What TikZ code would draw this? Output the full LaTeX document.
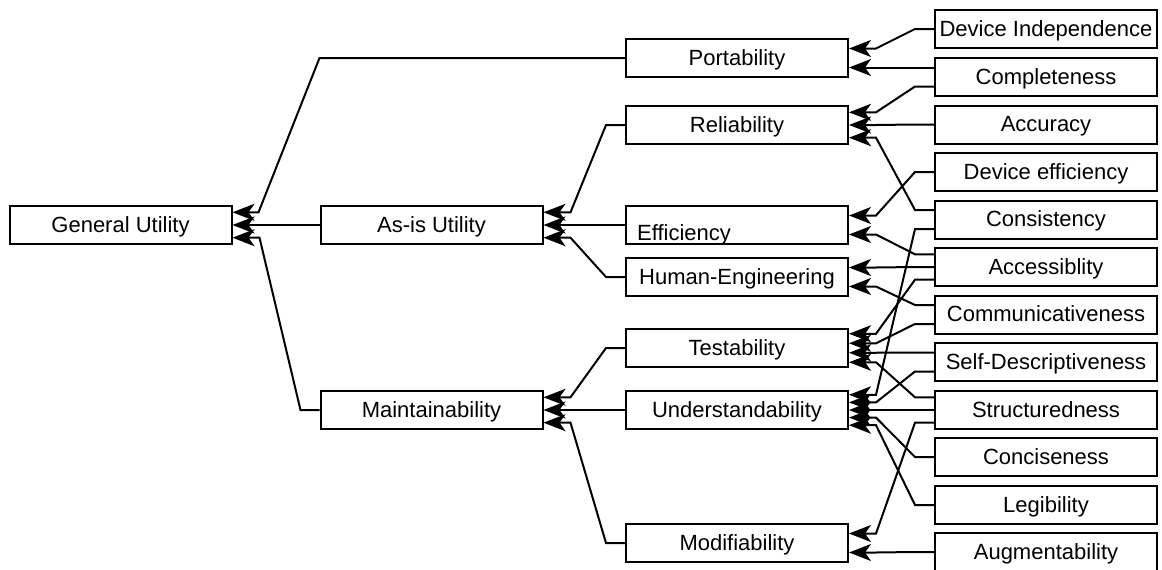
\documentclass[tikz,border=0pt]{standalone}
\usepackage{fontspec}
\setmainfont{Liberation Sans}
\usetikzlibrary{arrows.meta,calc}
\tikzset{
  box/.style={draw, line width=2pt, minimum width=222pt, minimum height=38pt, inner sep=0pt,
    text height=15pt, text depth=1pt},
  link/.style={line width=2pt, -{Stealth[length=22pt,width=17pt,inset=6pt]}},
}
% child exit offset, parent entry offset (pixels, downwards)
\newcommand{\linkbox}[4]{%
  \draw[link] ($(#1.west)+(0,#2)$) -- ++(-19,0) -- ($(#3.east)+(27,#4)$) -- ($(#3.east)+(0,#4)$);}

\begin{document}
\begin{tikzpicture}[x=1pt,y=-1pt,font=\fontsize{22}{26}\selectfont]
  \useasboundingbox (0,0) rectangle (1162,570);

  % first and second level
  \node[box] (gen) at (120.5,225) {General Utility};
  \node[box] (asis) at (431.5,225) {As-is Utility};
  \node[box] (maint) at (431.5,410) {Maintainability};

  % third level
  \node[box] (port) at (737,58) {Portability};
  \node[box] (rel) at (737,125) {Reliability};
  \node[box, label={[anchor=base west, inner sep=0pt, xshift=12pt, yshift=5pt]south west:Efficiency}] (eff) at (737,225) {};
  \node[box] (hum) at (737,277) {Human-Engineering};
  \node[box] (test) at (737,348) {Testability};
  \node[box] (und) at (737,410) {Understandability};
  \node[box] (mod) at (737,543) {Modifiability};

  % primitives
  \node[box] (devind) at (1046,29) {Device Independence};
  \node[box] (compl) at (1046,77) {Completeness};
  \node[box] (acc) at (1046,124.5) {Accuracy};
  \node[box] (deveff) at (1046,172) {Device efficiency};
  \node[box] (cons) at (1046,219.5) {Consistency};
  \node[box] (accs) at (1046,267) {Accessiblity};
  \node[box] (comm) at (1046,314.5) {Communicativeness};
  \node[box] (selfd) at (1046,362) {Self-Descriptiveness};
  \node[box] (struct) at (1046,410) {Structuredness};
  \node[box] (conc) at (1046,457) {Conciseness};
  \node[box] (leg) at (1046,505) {Legibility};
  \node[box] (augm) at (1046,552) {Augmentability};

  % second level -> first level
  \draw[link] (port.west) -- (asis.west |- port.west) -- ($(gen.east)+(26,-12.7)$) -- ($(gen.east)+(0,-12.7)$);
  \draw[link] (asis.west) -- (gen.east);
  \linkbox{maint}{0}{gen}{12.7}

  % third level -> second level
  \linkbox{rel}{0}{asis}{-12.7}
  \draw[link] (eff.west) -- (asis.east);
  \linkbox{hum}{0}{asis}{12.7}
  \linkbox{test}{0}{maint}{-12.7}
  \draw[link] (und.west) -- (maint.east);
  \linkbox{mod}{0}{maint}{12.7}

  % primitives -> third level
  \linkbox{devind}{0}{port}{-9.5}
  \linkbox{compl}{-9.5}{port}{9.5}
  \linkbox{compl}{9.5}{rel}{-12.7}
  \linkbox{acc}{0}{rel}{0}
  \linkbox{cons}{-9.5}{rel}{12.7}
  \linkbox{deveff}{0}{eff}{-9.5}
  \linkbox{accs}{-12.7}{eff}{9.5}
  \linkbox{accs}{0}{hum}{-9.5}
  \linkbox{comm}{-9.5}{hum}{9.5}
  \linkbox{accs}{12.7}{test}{-14.25}
  \linkbox{comm}{9.5}{test}{-4.75}
  \linkbox{selfd}{-9.5}{test}{4.75}
  \linkbox{struct}{-12.7}{test}{14.25}
  \linkbox{cons}{9.5}{und}{-15.2}
  \linkbox{selfd}{9.5}{und}{-7.6}
  \linkbox{struct}{0}{und}{0}
  \linkbox{conc}{0}{und}{7.6}
  \linkbox{leg}{0}{und}{15.2}
  \linkbox{struct}{12.7}{mod}{-9.5}
  \linkbox{augm}{0}{mod}{9.5}
\end{tikzpicture}
\end{document}
